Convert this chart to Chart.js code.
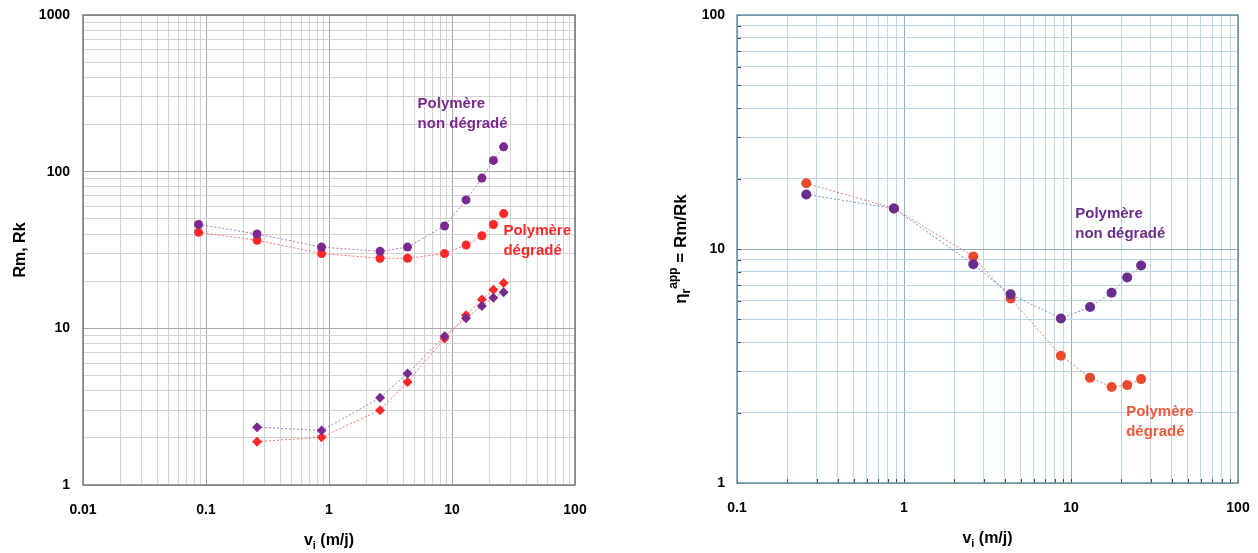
<!DOCTYPE html>
<html><head><meta charset="utf-8">
<script src="https://cdn.jsdelivr.net/npm/chart.js@4/dist/chart.umd.min.js"></script>
<style>
html,body{margin:0;padding:0;background:#fff;width:1258px;height:553px;overflow:hidden}
#c1{position:absolute;left:0;top:0}
#c2{position:absolute;left:630px;top:0}
</style></head><body>
<canvas id="c1" width="620" height="553"></canvas>
<canvas id="c2" width="628" height="553"></canvas>
<script>
// ---- data ----
const vRm = [0.087, 0.26, 0.87, 2.6, 4.35, 8.7, 13, 17.5, 21.7, 26.3];
const rmNonDeg = [46, 40, 33, 31, 33, 45, 66, 91, 118, 144];
const rmDeg = [41, 36.5, 30, 28, 28, 30, 34, 39, 46, 54];
const vRk = [0.26, 0.87, 2.6, 4.35, 8.7, 13, 17.5, 21.7, 26.3];
const rkNonDeg = [2.34, 2.23, 3.6, 5.15, 8.9, 11.6, 13.9, 15.7, 17.0];
const rkDeg = [1.89, 2.02, 3.0, 4.55, 8.6, 12.1, 15.3, 17.6, 19.5];
const vEta = [0.26, 0.87, 2.6, 4.35, 8.7, 13, 17.5, 21.7, 26.3];
const etaNonDeg = [17.1, 14.9, 8.6, 6.4, 5.05, 5.65, 6.5, 7.55, 8.5];
const etaDeg = [19.1, 14.9, 9.3, 6.15, 3.5, 2.82, 2.57, 2.62, 2.78];

// ---- tick labels ----
const xDecadesLeft = [0.01, 0.1, 1, 10, 100];
const yDecadesLeft = [1, 10, 100, 1000];
const xDecadesRight = [0.1, 1, 10, 100];
const yDecadesRight = [1, 10, 100];
const minorSteps = [1, 2, 3, 4, 5, 6, 7, 8, 9];

const FONT = '"Liberation Sans", Arial, Helvetica, sans-serif';

function gridValues(decades) {
  const out = [];
  for (let i = 0; i < decades.length - 1; i++)
    for (const m of minorSteps) out.push(Number((decades[i] * m).toPrecision(6)));
  out.push(decades[decades.length - 1]);
  return out;
}
function logAxis(decades, o) {
  return {
    type: 'logarithmic',
    min: decades[0], max: decades[decades.length - 1],
    afterBuildTicks: s => { s.ticks = gridValues(decades).map(v => ({ value: v })); },
    afterFit: s => {
      if (o.width != null) s.width = o.width;
      if (o.height != null) s.height = o.height;
      s.paddingTop = 0; s.paddingBottom = 0; s.paddingLeft = 0; s.paddingRight = 0;
    },
    grid: { color: c => (c.tick && decades.includes(c.tick.value)) ? o.major : o.minor, lineWidth: 1, drawTicks: false },
    border: { display: false },
    ticks: { autoSkip: false, maxRotation: 0, minRotation: 0, padding: o.pad, color: '#000',
      font: { family: FONT, size: 14, weight: 'bold' },
      callback: v => decades.includes(v) ? String(v) : '' }
  };
}
function pts(xs, ys) { return xs.map((x, i) => ({ x, y: ys[i] })); }
function ds(data, style, fill, line, r) {
  return { data, showLine: true, pointStyle: style, pointRadius: r, pointHoverRadius: r,
    pointBackgroundColor: fill, pointBorderColor: fill, pointBorderWidth: 0,
    borderColor: line, borderWidth: 1, borderDash: [2, 2], fill: false, tension: 0 };
}
function drawRich(ctx, parts, cx, baseY) {
  let total = 0;
  parts.forEach(p => { ctx.font = 'bold ' + p.size + 'px ' + FONT; p.w = ctx.measureText(p.t).width; total += p.w; });
  let x = cx - total / 2;
  ctx.textBaseline = 'alphabetic'; ctx.textAlign = 'left';
  parts.forEach(p => { ctx.font = 'bold ' + p.size + 'px ' + FONT; ctx.fillText(p.t, x, baseY + (p.dy || 0)); x += p.w; });
}
const decor = {
  id: 'decor',
  afterDraw(chart, args, o) {
    const { ctx, chartArea: a, scales } = chart;
    ctx.save();
    if (o.innerTicks) {
      ctx.strokeStyle = '#444'; ctx.lineWidth = 1;
      scales.x.ticks.forEach(t => { const x = Math.round(scales.x.getPixelForValue(t.value)) + 0.5;
        ctx.beginPath(); ctx.moveTo(x, a.bottom); ctx.lineTo(x, a.bottom - 4); ctx.stroke(); });
      scales.y.ticks.forEach(t => { const y = Math.round(scales.y.getPixelForValue(t.value)) + 0.5;
        ctx.beginPath(); ctx.moveTo(a.left, y); ctx.lineTo(a.left + 4, y); ctx.stroke(); });
    }
    ctx.strokeStyle = o.frame; ctx.lineWidth = o.frameWidth;
    ctx.strokeRect(a.left, a.top, a.right - a.left, a.bottom - a.top);
    ctx.fillStyle = '#000';
    drawRich(ctx, o.xTitle, (a.left + a.right) / 2, a.bottom + o.xTitleOffset);
    ctx.save();
    ctx.translate(o.yTitleX, (a.top + a.bottom) / 2);
    ctx.rotate(-Math.PI / 2);
    drawRich(ctx, o.yTitle, 0, 0);
    ctx.restore();
    ctx.font = 'bold 15px ' + FONT; ctx.textAlign = 'left'; ctx.textBaseline = 'middle';
    o.labels.forEach(l => {
      const x = scales.x.getPixelForValue(l.x), y = scales.y.getPixelForValue(l.y);
      ctx.fillStyle = l.color;
      l.lines.forEach((s, i) => ctx.fillText(s, x, y + i * 20));
    });
    ctx.restore();
  }
};
const xTitle = [{ t: 'v', size: 16 }, { t: 'i', size: 11, dy: 4 }, { t: ' (m/j)', size: 16 }];

new Chart(document.getElementById('c1'), {
  type: 'scatter',
  data: { datasets: [
    ds(pts(vRm, rmNonDeg), 'circle', '#7a2a8e', '#a878c0', 4.5),
    ds(pts(vRm, rmDeg), 'circle', '#ff2828', '#ff6a6a', 4.5),
    ds(pts(vRk, rkNonDeg), 'rectRot', '#7a2a8e', '#a878c0', 5),
    ds(pts(vRk, rkDeg), 'rectRot', '#ff2828', '#ff6a6a', 5)
  ] },
  options: {
    responsive: false, animation: false, events: [],
    layout: { padding: { top: 15, right: 45, left: 0, bottom: 0 } },
    scales: {
      x: logAxis(xDecadesLeft, { height: 68, pad: 17, major: '#a8a8a8', minor: '#d4d4d4' }),
      y: logAxis(yDecadesLeft, { width: 83, pad: 13, major: '#a8a8a8', minor: '#d4d4d4' })
    },
    plugins: {
      legend: { display: false }, tooltip: { enabled: false },
      decor: {
        frame: '#7a7a7a', frameWidth: 1.5, innerTicks: false,
        xTitle, xTitleOffset: 60,
        yTitle: [{ t: 'Rm, Rk', size: 16 }], yTitleX: 25,
        labels: [
          { x: 5.25, y: 270, lines: ['Polymère', 'non dégradé'], color: '#7a2a8e' },
          { x: 26.2, y: 41.8, lines: ['Polymère', 'dégradé'], color: '#ff2828' }
        ]
      }
    }
  },
  plugins: [decor]
});

new Chart(document.getElementById('c2'), {
  type: 'scatter',
  data: { datasets: [
    ds(pts(vEta, etaNonDeg), 'circle', '#6a2d8e', '#6f8fc8', 5),
    ds(pts(vEta, etaDeg), 'circle', '#ea4a2c', '#e0787a', 5)
  ] },
  options: {
    responsive: false, animation: false, events: [],
    layout: { padding: { top: 15, right: 20, left: 0, bottom: 0 } },
    scales: {
      x: logAxis(xDecadesRight, { height: 70, pad: 17, major: '#8fb4c8', minor: '#bcd8e6' }),
      y: logAxis(yDecadesRight, { width: 107, pad: 12, major: '#8fb4c8', minor: '#bcd8e6' })
    },
    plugins: {
      legend: { display: false }, tooltip: { enabled: false },
      decor: {
        frame: '#6d8ea0', frameWidth: 1.5, innerTicks: true,
        xTitle, xTitleOffset: 60,
        yTitle: [{ t: 'η', size: 17 }, { t: 'r', size: 12, dy: 4 }, { t: 'app', size: 12, dy: -9 }, { t: ' = Rm/Rk', size: 17 }], yTitleX: 56,
        labels: [
          { x: 10.6, y: 14.1, lines: ['Polymère', 'non dégradé'], color: '#6a2d8e' },
          { x: 21.4, y: 2.01, lines: ['Polymère', 'dégradé'], color: '#ec5a3c' }
        ]
      }
    }
  },
  plugins: [decor]
});
</script>
</body></html>
